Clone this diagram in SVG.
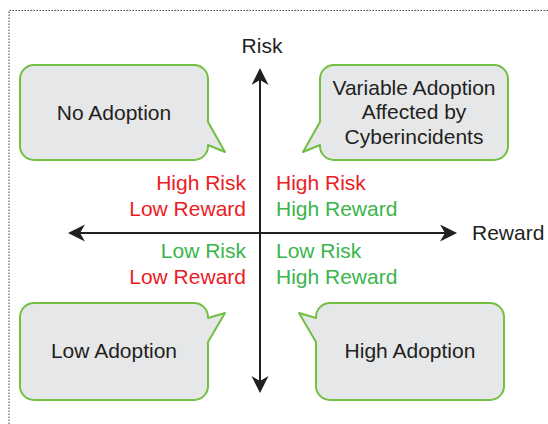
<svg xmlns="http://www.w3.org/2000/svg" width="548" height="424" viewBox="0 0 548 424">
  <style>
    text { font-family: "Liberation Sans", Arial, sans-serif; font-size: 21px; }
    .dark { fill: #231f20; }
    .red { fill: #ec1c24; }
    .green { fill: #39b54a; }
    .bubble { fill: #e6e7e8; stroke: #72bf44; stroke-width: 2; stroke-linejoin: round; }
    .axis { stroke: #231f20; stroke-width: 2; fill: none; }
    .frame { stroke: #444; stroke-width: 1; fill: none; stroke-dasharray: 1.5 1.5; }
  </style>
  <defs>
    <marker id="arrow" markerUnits="userSpaceOnUse" markerWidth="18" markerHeight="18" viewBox="0 0 18 18" refX="5" refY="8.5" orient="auto-start-reverse">
      <path d="M0,0 L17,8.5 L0,17 L5,8.5 Z" fill="#231f20"/>
    </marker>
  </defs>

  <!-- dotted frame -->
  <path class="frame" d="M9,424 V10.5 H548"/>

  <!-- axes -->
  <g id="connectors">
    <line class="axis" x1="260" y1="80" x2="260" y2="381" marker-start="url(#arrow)" marker-end="url(#arrow)"/>
    <line class="axis" x1="80" y1="233" x2="445" y2="233" marker-start="url(#arrow)" marker-end="url(#arrow)"/>
  </g>

  <g id="axis-labels">
    <text class="dark" x="262" y="53" text-anchor="middle">Risk</text>
    <text class="dark" x="472" y="240">Reward</text>
  </g>

  <!-- quadrant labels -->
  <g id="q-high-risk-low-reward" text-anchor="end">
    <text class="red" x="246" y="190">High Risk</text>
    <text class="red" x="246" y="216">Low Reward</text>
  </g>
  <g id="q-high-risk-high-reward">
    <text class="red" x="276" y="190">High Risk</text>
    <text class="green" x="276" y="216">High Reward</text>
  </g>
  <g id="q-low-risk-low-reward" text-anchor="end">
    <text class="green" x="246" y="258">Low Risk</text>
    <text class="red" x="246" y="284">Low Reward</text>
  </g>
  <g id="q-low-risk-high-reward">
    <text class="green" x="276" y="258">Low Risk</text>
    <text class="green" x="276" y="284">High Reward</text>
  </g>

  <!-- callouts -->
  <g id="no-adoption">
    <path class="bubble" d="M34,65 H194 A14,14 0 0 1 208,79 V122 L225,152 L208,145 V146 A14,14 0 0 1 194,160 H34 A14,14 0 0 1 20,146 V79 A14,14 0 0 1 34,65 Z"/>
    <text class="dark" x="114" y="120" text-anchor="middle">No Adoption</text>
  </g>
  <g id="variable-adoption">
    <path class="bubble" d="M334,65 H494 A14,14 0 0 1 508,79 V146 A14,14 0 0 1 494,160 H334 A14,14 0 0 1 320,146 V145 L303,152 L320,122 V79 A14,14 0 0 1 334,65 Z"/>
    <text class="dark" x="414" y="95" text-anchor="middle">Variable Adoption</text>
    <text class="dark" x="414" y="119" text-anchor="middle">Affected by</text>
    <text class="dark" x="414" y="144" text-anchor="middle">Cyberincidents</text>
  </g>
  <g id="low-adoption">
    <path class="bubble" d="M34,303 H194 A14,14 0 0 1 208,317 V318 L225,313 L208,342 V386 A14,14 0 0 1 194,400 H34 A14,14 0 0 1 20,386 V317 A14,14 0 0 1 34,303 Z"/>
    <text class="dark" x="114" y="358" text-anchor="middle">Low Adoption</text>
  </g>
  <g id="high-adoption">
    <path class="bubble" d="M330,303 H490 A14,14 0 0 1 504,317 V386 A14,14 0 0 1 490,400 H330 A14,14 0 0 1 316,386 V342 L299,313 L316,318 V317 A14,14 0 0 1 330,303 Z"/>
    <text class="dark" x="410" y="358" text-anchor="middle">High Adoption</text>
  </g>
</svg>
